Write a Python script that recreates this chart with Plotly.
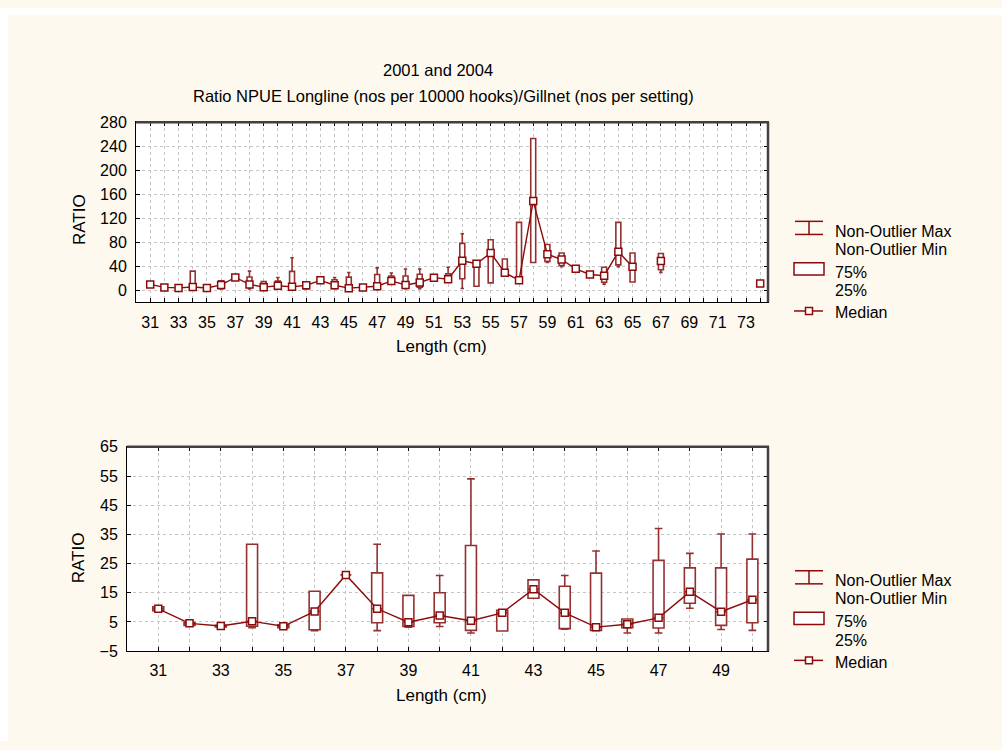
import plotly.graph_objects as go

# ---------------- data ----------------
length = [31, 32, 33, 34, 35, 36, 37, 38, 39, 40, 41, 42, 43, 44, 45, 46, 47, 48, 49, 50,
          51, 52, 53, 54, 55, 56, 57, 58, 59, 60, 61, 62, 63, 64, 65, 67, 74]
nonout_min = [8.8, 3.8, 3.3, 3.0, 3.0, 2.0, 21.1, 2.0, 3.2, 3.4, 1.2, 1.9, 13.1, 2.5, 2.1, 1.2, 1.2, 9.7, 2.4, 2.1,
              18, 14, 2.6, 6.5, 12, 25, 14, 46, 46, 39, 35.5, 26, 10, 39, 13.6, 29.5, 10]
pct25 = [8.8, 3.8, 3.3, 3.5, 3.0, 2.3, 21.1, 4.7, 3.4, 4.7, 2.1, 1.9, 13.1, 2.7, 2.1, 3.0, 2.9, 11.4, 3.8, 4.7,
         18, 14, 19, 6.5, 12, 25, 14, 46, 48, 41, 35.5, 26, 13, 42, 13.6, 34, 10]
median = [9.5, 4.5, 3.6, 5.2, 3.5, 8.6, 21.1, 9.5, 4.9, 7.2, 5.4, 8.1, 16.2, 8.1, 3.2, 4.2, 6.4, 15.3, 8.5, 12.6,
          20.7, 18, 49, 44, 62, 29, 16.4, 148.5, 60, 51, 35.5, 26, 24, 64, 39, 48.6, 11]
pct75 = [10.2, 4.8, 3.8, 31.6, 4.0, 15.5, 21.1, 21.8, 14.1, 15.0, 31.2, 9.0, 19.4, 17.2, 21.7, 6.0, 26.1, 23.5, 23.5, 26.5,
         22, 27, 78, 47, 84, 52, 113, 253, 76, 62, 35.5, 26, 38, 113, 62, 61, 12]
nonout_max = [10.2, 4.8, 3.8, 31.6, 4.0, 15.5, 21.1, 31.6, 14.1, 20.9, 54.0, 9.0, 19.4, 20.9, 29.3, 6.0, 37.0, 28.5, 35.1, 35.1,
              22, 38, 94, 47, 84, 52, 113, 253, 76, 62, 35.5, 26, 38, 113, 62, 61, 12]

top_ticks = list(range(31, 75))
top_yticks = [0, 40, 80, 120, 160, 200, 240, 280]
bot_ticks = list(range(31, 51))
bot_yticks = [-5, 5, 15, 25, 35, 45, 55, 65]

title1 = "2001 and 2004"
title2 = "Ratio NPUE Longline (nos per 10000 hooks)/Gillnet (nos per setting)"
xtitle = "Length (cm)"
ytitle = "RATIO"
legend_labels = ["Non-Outlier Max", "Non-Outlier Min", "75%", "25%", "Median"]

# ---------------- style ----------------
W, H = 1002, 750
RED = "#8b0a0a"
BOXRED = "#953030"
CREAM = "#fef9ee"
FONT = "Liberation Sans, Arial, sans-serif"


def px(x):
    return x / W


def py(y):
    return 1 - y / H


fig = go.Figure()

med_map = dict(zip(length, median))


def add_panel(xa, ya, cats):
    sel = [i for i, L in enumerate(length) if L in cats]
    fig.add_trace(go.Box(
        x=[length[i] for i in sel],
        q1=[pct25[i] for i in sel],
        median=[median[i] for i in sel],
        q3=[pct75[i] for i in sel],
        lowerfence=[nonout_min[i] for i in sel],
        upperfence=[nonout_max[i] for i in sel],
        width=0.35, whiskerwidth=0.7, boxpoints=False,
        fillcolor="white", line=dict(color=BOXRED, width=1.6),
        xaxis=xa, yaxis=ya, showlegend=False, hoverinfo="skip",
    ))
    fig.add_trace(go.Scatter(
        x=cats, y=[med_map.get(c) for c in cats],
        mode="lines+markers", connectgaps=False,
        line=dict(color=RED, width=1.4),
        marker=dict(symbol="square", size=7, color="white", line=dict(color=RED, width=1.5)),
        xaxis=xa, yaxis=ya, showlegend=False, hoverinfo="skip",
    ))


add_panel("x", "y", top_ticks)
add_panel("x2", "y2", bot_ticks)

axis_common = dict(
    showline=True, mirror="ticks", linecolor="black", linewidth=1,
    ticks="inside", ticklen=4, tickcolor="black",
    showgrid=True, gridcolor="#c4c4c4", griddash="dot", gridwidth=1,
    zeroline=False, tickfont=dict(family=FONT, size=16, color="black"),
)

fig.update_layout(
    width=W, height=H,
    margin=dict(l=0, r=0, t=0, b=0),
    paper_bgcolor=CREAM, plot_bgcolor="white",
    showlegend=False,
    xaxis=dict(domain=[px(136), px(768)], range=[30, 74.55], anchor="y",
               tickvals=top_ticks, ticktext=[str(t) if t % 2 == 1 else "" for t in top_ticks],
               ticklabelstandoff=6, **axis_common),
    yaxis=dict(domain=[py(301), py(117)], range=[-20.2, 280], anchor="x",
               tickvals=top_yticks, ticklabelstandoff=5, **axis_common),
    xaxis2=dict(domain=[px(127), px(768)], range=[30, 50.5], anchor="y2",
                tickvals=bot_ticks, ticktext=[str(t) if t % 2 == 1 else "" for t in bot_ticks],
                ticklabelstandoff=5, **axis_common),
    yaxis2=dict(domain=[py(658), py(449)], range=[-5, 65], anchor="x2",
                tickvals=bot_yticks, ticklabelstandoff=5, **axis_common),
)

shapes = []
# white strip at top/left of page
shapes.append(dict(type="rect", xref="paper", yref="paper", x0=px(0), x1=px(W), y0=py(7), y1=py(0),
                   fillcolor="white", line=dict(width=0), layer="below"))
shapes.append(dict(type="rect", xref="paper", yref="paper", x0=px(0), x1=px(8), y0=py(H), y1=py(0),
                   fillcolor="white", line=dict(width=0), layer="below"))
# thicker top/right frame edges
for (x0, x1, yt, yb) in [(136, 768, 117, 301), (127, 768, 449, 658)]:
    shapes.append(dict(type="line", xref="paper", yref="paper", x0=px(x0), x1=px(x1 + 1), y0=py(yt), y1=py(yt),
                       line=dict(color="#404040", width=2.5)))
    shapes.append(dict(type="line", xref="paper", yref="paper", x0=px(x1), x1=px(x1), y0=py(yt), y1=py(yb),
                       line=dict(color="#404040", width=2.5)))

annotations = []


def ann(text, x, y, size=14, anchor="center", angle=0):
    annotations.append(dict(text=text, x=px(x), y=py(y), xref="paper", yref="paper",
                            xanchor=anchor, yanchor="middle", showarrow=False, textangle=angle,
                            font=dict(family=FONT, size=size, color="black")))


ann(title1, 438, 63, size=16.5)
ann(title2, 443, 90, size=16.5)
ann(xtitle, 441, 346, size=17)
ann(xtitle, 441, 703, size=17)
ann(ytitle, 79, 217, size=17, angle=-90)
ann(ytitle, 78, 563, size=17, angle=-90)


def legend(dy):
    lw = dict(color=RED, width=1.5)
    shapes.append(dict(type="line", xref="paper", yref="paper", x0=px(795), x1=px(823),
                       y0=py(218.3 + dy), y1=py(218.3 + dy), line=lw))
    shapes.append(dict(type="line", xref="paper", yref="paper", x0=px(795), x1=px(823),
                       y0=py(231.7 + dy), y1=py(231.7 + dy), line=lw))
    shapes.append(dict(type="line", xref="paper", yref="paper", x0=px(809), x1=px(809),
                       y0=py(218.3 + dy), y1=py(231.7 + dy), line=lw))
    shapes.append(dict(type="rect", xref="paper", yref="paper", x0=px(794), x1=px(824),
                       y0=py(273.3 + dy), y1=py(260.7 + dy), fillcolor="white", line=lw))
    shapes.append(dict(type="line", xref="paper", yref="paper", x0=px(794), x1=px(823),
                       y0=py(310 + dy), y1=py(310 + dy), line=lw))
    shapes.append(dict(type="rect", xref="paper", yref="paper", x0=px(805.5), x1=px(812.5),
                       y0=py(313.5 + dy), y1=py(306.5 + dy), fillcolor="white", line=lw))
    ys = [228.3, 246.7, 270.7, 289.3, 311.7]
    for lab, yy in zip(legend_labels, ys):
        ann(lab, 833, yy + dy, size=16, anchor="left")


legend(0)
legend(357.5)

fig.update_layout(shapes=shapes, annotations=annotations)
fig.write_html("out.html")
